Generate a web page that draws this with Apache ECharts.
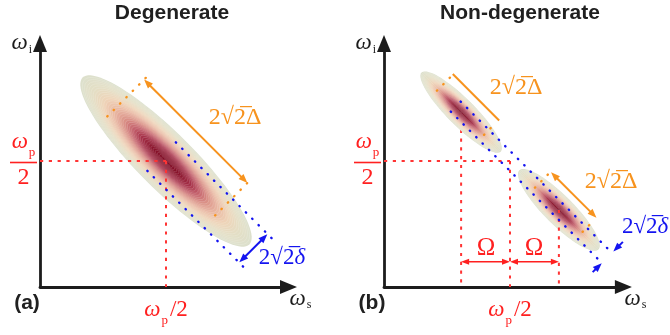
<!DOCTYPE html>
<html>
<head>
<meta charset="utf-8">
<script src="https://cdn.jsdelivr.net/npm/echarts@6/dist/echarts.min.js"></script>
<style>
  html, body { margin: 0; padding: 0; background: #ffffff; }
  #chart { width: 670px; height: 335px; }
</style>
</head>
<body>
<div id="chart"></div>
<script>
// ---- frequency plane: both panels share the same scale (ω_p/2 = 5 units) ----
const halfPump = 5;                 // ω_p / 2
const omegaShift = 1.94;            // Ω, non-degenerate detuning
const panelTitles = ['Degenerate', 'Non-degenerate'];
const panelLetters = ['(a)', '(b)'];
const xTickValues = [halfPump];
const yTickValues = [halfPump];

// joint spectral intensity ellipses (centre, semi-axes, orientation in degrees)
const ellipsePanel = [0, 1, 1];
const ellipseCx    = [5.00, 3.06, 6.94];
const ellipseCy    = [5.00, 6.94, 3.06];
const ellipseMajor = [4.68, 2.22, 2.22];
const ellipseMinor = [1.11, 0.54, 0.58];
const ellipseAngle = [-45, -45, -45];

// red guide lines to ω_p/2 and the two centres
const guidePanel = [0, 0, 1, 1, 1];
const guideSegs  = [[0, 5, 5, 5], [5, 5, 5, 0], [0, 5, 5, 5], [5, 5, 5, 0], [6.94, 3.06, 6.94, 0]];
const guideBehindPanel = [1];
const guideBehindSegs  = [[3.06, 6.94, 3.06, 0]];

// blue dotted lines bounding the anti-diagonal width (δ)
const deltaLinePanel = [0, 0, 1, 1];
const deltaLineSegs  = [[5.39, 5.74, 9.31, 1.82], [4.26, 4.61, 8.18, 0.69],
                        [3.04, 7.36, 8.95, 1.45], [2.65, 6.96, 8.55, 1.05]];
// blue width arrows [x1, y1, x2, y2, head at start, head at end]
const deltaArrowPanel = [0, 1, 1];
const deltaArrowSegs  = [[7.91, 0.98, 9.02, 2.09, 1, 1],
                         [8.28, 0.59, 8.64, 0.94, 0, 1], [9.48, 1.79, 9.10, 1.41, 0, 1]];

// orange dotted end markers of the diagonal length (Δ)
const bigDeltaLinePanel = [0, 0, 1, 1, 1, 1];
const bigDeltaLineSegs  = [[2.67, 6.77, 4.26, 8.36], [6.95, 2.84, 8.43, 4.33],
                           [2.10, 7.79, 2.72, 8.41], [3.97, 6.04, 4.43, 6.50],
                           [5.99, 3.94, 6.53, 4.49], [7.88, 2.19, 8.23, 2.54]];
const bigDeltaArrowPanel = [0, 1, 1];
const bigDeltaArrowSegs  = [[4.13, 8.23, 8.23, 4.13, 1, 1],
                            [2.73, 8.45, 4.57, 6.61, 0, 0], [6.63, 4.55, 8.43, 2.75, 1, 1]];

// Ω detuning arrows
const omegaArrowPanel = [1, 1];
const omegaArrowSegs  = [[3.06, 1.0, 5.0, 1.0, 1, 1], [5.0, 1.0, 6.94, 1.0, 1, 1]];

// annotation labels
const labelPanel = [0, 0, 1, 1, 1, 1, 1];
const labelX     = [7.74, 9.60, 5.24, 9.01, 9.44, 4.05, 5.95];
const labelY     = [6.71, 1.15, 7.90, 4.17, 2.38, 1.55, 1.55];
const labelKind  = ['Delta', 'delta', 'Delta', 'Delta', 'delta', 'Omega', 'Omega'];
const labelAlign = ['center', 'center', 'center', 'center', 'left', 'center', 'center'];

// ---- layout ----
const UNIT = 25.2;                       // pixels per unit on every axis
const axisMaxX = [9.86, 9.50];
const axisMaxY = 9.66;
const gridLeft = [40, 384];
const originY = 287;

const INK = '#1c1c1c';
const RED = '#ff2020';
const ORANGE = '#f7931e';
const BLUE = '#1414f0';
const SERIF = '"Liberation Serif", "Times New Roman", serif';
const SANS = '"Liberation Sans", Arial, sans-serif';

const grids = [0, 1].map(i => ({
  left: gridLeft[i],
  top: originY - axisMaxY * UNIT,
  width: axisMaxX[i] * UNIT,
  height: axisMaxY * UNIT
}));

function mathRich(color, big, small, subPad) {
  return {
    w:   { fontFamily: SERIF, fontStyle: 'italic', fontSize: big, color: color, lineHeight: 24, verticalAlign: 'top', align: 'center' },
    sub: { fontFamily: SERIF, fontSize: small, color: color, lineHeight: 10, padding: [subPad, 0, 0, 1], verticalAlign: 'top', align: 'center' },
    n:   { fontFamily: SERIF, fontSize: big, color: color, lineHeight: 24, verticalAlign: 'top', align: 'center', padding: [0, 0, 0, 2] },
    sp:  { fontSize: 1, lineHeight: 7, align: 'center' },
    bar: { width: 27, height: 1.6, backgroundColor: color, fontSize: 1, align: 'center' },
    den: { fontFamily: SERIF, fontSize: 24, color: color, lineHeight: 28, align: 'center' }
  };
}

const xAxes = [0, 1].map(i => ({
  gridIndex: i, type: 'value', min: 0, max: axisMaxX[i], interval: halfPump,
  axisLine: { show: true, onZero: false, symbol: ['none', 'triangle'], symbolSize: [14, 17],
              lineStyle: { color: INK, width: 2.8 } },
  axisTick: { show: false }, splitLine: { show: false },
  axisLabel: {
    margin: 11, showMaxLabel: false, showMinLabel: false,
    formatter: v => xTickValues.includes(v) ? '{w|ω}{sub|p}{n|/2}' : '',
    rich: mathRich(RED, 23, 13, 16)
  },
  name: '{w|ω}{sub|s}', nameLocation: 'end', nameGap: 1,
  nameTextStyle: { align: 'left', verticalAlign: 'top', padding: [0, 0, 0, 0], rich: mathRich(INK, 23, 12, 12) }
}));

const yAxes = [0, 1].map(i => ({
  gridIndex: i, type: 'value', min: 0, max: axisMaxY, interval: halfPump,
  axisLine: { show: true, onZero: false, symbol: ['none', 'triangle'], symbolSize: [14, 17],
              lineStyle: { color: INK, width: 2.8 } },
  axisTick: { show: false }, splitLine: { show: false },
  axisLabel: {
    margin: 3, showMaxLabel: false, showMinLabel: false,
    formatter: v => yTickValues.includes(v) ? '{w|ω}{sub|p}\n{sp| }\n{bar| }\n{den|2}' : '',
    rich: mathRich(RED, 23, 13, 15)
  },
  name: '{w|ω}{sub|i}', nameLocation: 'end', nameGap: 0,
  nameTextStyle: { align: 'right', verticalAlign: 'middle', padding: [0, 8, 0, 0], rich: mathRich(INK, 23, 12, 12) }
}));

// ---- Gaussian colour map used for the ellipses ----
const rampStops = [
  [1.00, [221, 224, 204]], [0.86, [228, 222, 196]], [0.74, [238, 212, 184]],
  [0.62, [234, 186, 164]], [0.50, [218, 144, 134]], [0.40, [196, 98, 108]],
  [0.30, [166, 50, 74]], [0.18, [140, 22, 46]], [0.00, [124, 10, 34]]
];
function rampColor(s) {
  for (let k = 0; k < rampStops.length - 1; k++) {
    const [s0, c0] = rampStops[k], [s1, c1] = rampStops[k + 1];
    if (s <= s0 && s >= s1) {
      const f = (s0 - s) / (s0 - s1);
      return 'rgb(' + c0.map((c, j) => Math.round(c + (c1[j] - c) * f)).join(',') + ')';
    }
  }
  return 'rgb(' + rampStops[rampStops.length - 1][1].join(',') + ')';
}

const LEVELS = 40;
function renderEllipse(params, api) {
  const cx = api.value(0), cy = api.value(1), a = api.value(2), b = api.value(3);
  const ang = api.value(4) * Math.PI / 180;
  const ca = Math.cos(ang), sa = Math.sin(ang);
  const children = [];
  for (let l = 0; l < LEVELS; l++) {
    const s = 1 - l / LEVELS;
    const pts = [];
    for (let i = 0; i < 96; i++) {
      const t = i / 96 * Math.PI * 2;
      const ex = a * s * Math.cos(t), ey = b * s * Math.sin(t);
      pts.push(api.coord([cx + ex * ca - ey * sa, cy + ex * sa + ey * ca]));
    }
    children.push({
      type: 'polygon', shape: { points: pts },
      style: { fill: rampColor(s), stroke: l === 0 ? null : 'rgba(255,255,255,0.28)', lineWidth: 0.6 }
    });
  }
  return { type: 'group', children };
}

function headShape(tip, from, len, wid, color) {
  const dx = tip[0] - from[0], dy = tip[1] - from[1];
  const d = Math.hypot(dx, dy) || 1;
  const ux = dx / d, uy = dy / d;
  const bx = tip[0] - ux * len, by = tip[1] - uy * len;
  return {
    type: 'polygon',
    shape: { points: [tip, [bx - uy * wid / 2, by + ux * wid / 2], [bx + uy * wid / 2, by - ux * wid / 2]] },
    style: { fill: color }
  };
}

function segmentRenderer(lineStyle, headLen, headWid) {
  return function (params, api) {
    let p1 = api.coord([api.value(0), api.value(1)]);
    let p2 = api.coord([api.value(2), api.value(3)]);
    const h1 = api.value(4) === 1, h2 = api.value(5) === 1;
    const children = [];
    const dx = p2[0] - p1[0], dy = p2[1] - p1[1], d = Math.hypot(dx, dy) || 1;
    const ux = dx / d, uy = dy / d;
    const a = h1 ? [p1[0] + ux * headLen * 0.8, p1[1] + uy * headLen * 0.8] : p1;
    const b = h2 ? [p2[0] - ux * headLen * 0.8, p2[1] - uy * headLen * 0.8] : p2;
    children.push({ type: 'line', shape: { x1: a[0], y1: a[1], x2: b[0], y2: b[1] }, style: lineStyle });
    if (h1) children.push(headShape(p1, p2, headLen, headWid, lineStyle.stroke));
    if (h2) children.push(headShape(p2, p1, headLen, headWid, lineStyle.stroke));
    return { type: 'group', children };
  };
}

const dotStyle = c => ({ stroke: c, lineWidth: 2.4, lineDash: [0.4, 8.6], lineCap: 'round', fill: null });
const redDash = { stroke: '#ff3434', lineWidth: 2, lineDash: [3.2, 5.6], fill: null };

const series = [];
function addSegments(name, panels, segs, style, z, headLen, headWid) {
  [0, 1].forEach(p => {
    const data = segs.filter((s, k) => panels[k] === p).map(s => s.length === 4 ? s.concat([0, 0]) : s);
    if (!data.length) return;
    series.push({
      name, type: 'custom', coordinateSystem: 'cartesian2d', xAxisIndex: p, yAxisIndex: p,
      z, silent: true, clip: false, animation: false,
      encode: { x: [0, 2], y: [1, 3] },
      renderItem: segmentRenderer(style, headLen || 8, headWid || 7),
      data
    });
  });
}

addSegments('guides-behind', guideBehindPanel, guideBehindSegs, redDash, 1);

[0, 1].forEach(p => {
  const data = ellipsePanel.map((pp, k) => pp === p ? [ellipseCx[k], ellipseCy[k], ellipseMajor[k], ellipseMinor[k], ellipseAngle[k]] : null).filter(Boolean);
  series.push({
    name: 'JSI', type: 'custom', coordinateSystem: 'cartesian2d', xAxisIndex: p, yAxisIndex: p,
    z: 2, silent: true, clip: false, animation: false,
    encode: { x: 0, y: 1 }, renderItem: renderEllipse, data
  });
});

addSegments('guides', guidePanel, guideSegs, redDash, 3);
addSegments('delta-lines', deltaLinePanel, deltaLineSegs, dotStyle(BLUE), 4);
addSegments('Delta-lines', bigDeltaLinePanel, bigDeltaLineSegs, dotStyle(ORANGE), 4);
addSegments('delta-arrows', deltaArrowPanel, deltaArrowSegs, { stroke: BLUE, lineWidth: 2, fill: null }, 5, 9, 7);
addSegments('Delta-arrows', bigDeltaArrowPanel, bigDeltaArrowSegs, { stroke: ORANGE, lineWidth: 2, fill: null }, 5, 9, 7);
addSegments('Omega-arrows', omegaArrowPanel, omegaArrowSegs, { stroke: RED, lineWidth: 1.6, fill: null }, 5, 8, 6);

// annotation text, placed in data coordinates
const labelTexts = {
  Delta: { text: '{n|2√2̅Δ}', color: ORANGE, size: 24 },
  delta: { text: '{n|2√2̅}{i|δ}', color: BLUE, size: 23 },
  Omega: { text: '{n|Ω}', color: RED, size: 25 }
};
[0, 1].forEach(p => {
  const data = labelPanel.map((pp, k) => pp === p ? [labelX[k], labelY[k], k] : null).filter(Boolean);
  series.push({
    name: 'labels', type: 'custom', coordinateSystem: 'cartesian2d', xAxisIndex: p, yAxisIndex: p,
    z: 6, silent: true, clip: false, animation: false, encode: { x: 0, y: 1 },
    renderItem: (params, api) => {
      const k = api.value(2);
      const pos = api.coord([api.value(0), api.value(1)]);
      const spec = labelTexts[labelKind[k]];
      return {
        type: 'text', x: pos[0], y: pos[1],
        style: {
          text: spec.text, fill: spec.color,
          align: labelAlign[k], verticalAlign: 'middle',
          textAlign: labelAlign[k], textVerticalAlign: 'middle',
          rich: {
            n: { fontFamily: SERIF, fontSize: spec.size, color: spec.color },
            i: { fontFamily: SERIF, fontStyle: 'italic', fontSize: spec.size, color: spec.color }
          }
        }
      };
    },
    data
  });
});

const titleX = [172, 520];
const letterX = [27, 372];
const graphic = [];
[0, 1].forEach(i => {
  graphic.push({ type: 'text', x: titleX[i], y: 13, silent: true,
    style: { text: panelTitles[i], font: 'bold 21px ' + SANS, fill: '#202020',
             align: 'center', verticalAlign: 'middle', textAlign: 'center', textVerticalAlign: 'middle' } });
  graphic.push({ type: 'text', x: letterX[i], y: 303, silent: true,
    style: { text: panelLetters[i], font: 'bold 21px ' + SANS, fill: '#202020',
             align: 'center', verticalAlign: 'middle', textAlign: 'center', textVerticalAlign: 'middle' } });
});

const chart = echarts.init(document.getElementById('chart'), null, { renderer: 'canvas' });
chart.setOption({
  animation: false,
  backgroundColor: '#ffffff',
  grid: grids,
  xAxis: xAxes,
  yAxis: yAxes,
  graphic,
  series
});
</script>
</body>
</html>
